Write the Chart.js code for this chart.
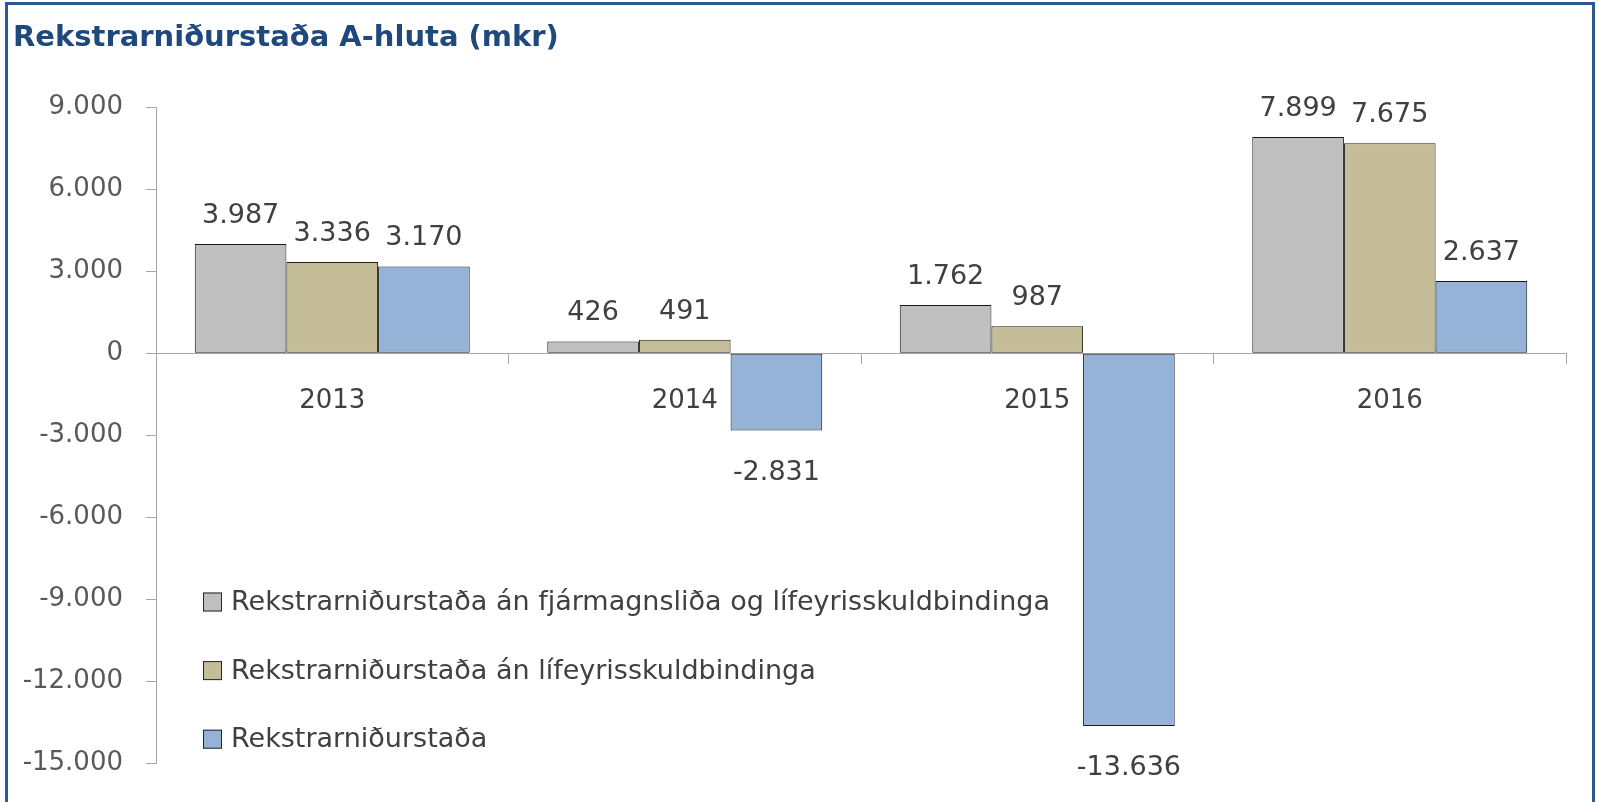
<!DOCTYPE html>
<html>
<head>
<meta charset="utf-8">
<script src="https://cdn.jsdelivr.net/npm/chart.js@4.4.1/dist/chart.umd.min.js"></script>
<style>
  html, body { margin: 0; padding: 0; background: #fff; overflow: hidden; }
  #frame {
    position: absolute; left: 5px; top: 2px;
    width: 1584px; height: 820px;
    border: 3px solid #2B5797;
  }
  #wrap { position: relative; width: 1584px; height: 797px; }
</style>
</head>
<body>
<div id="frame"><div id="wrap"><canvas id="chart"></canvas></div></div>
<script>
// chart data
const years = ['2013', '2014', '2015', '2016'];
const seriesNames = [
  'Rekstrarniðurstaða án fjármagnsliða og lífeyrisskuldbindinga',
  'Rekstrarniðurstaða án lífeyrisskuldbindinga',
  'Rekstrarniðurstaða'
];
const anFjarmagnslida = [3987, 426, 1762, 7899];
const anLifeyris = [3336, 491, 987, 7675];
const rekstrarnidurstada = [3170, -2831, -13636, 2637];
const seriesColors = ['#BFBFBF', '#C4BD97', '#95B3D7'];
const yTicks = [9000, 6000, 3000, 0, -3000, -6000, -9000, -12000, -15000];

const FONT = "'DejaVu Sans', 'Open Sans', sans-serif";
const FSIZE = 26;

// 1234 -> 1.234
const fmt = (v) => {
  const s = String(Math.abs(v)).replace(/\B(?=(\d{3})+(?!\d))/g, '.');
  return v < 0 ? '-' + s : s;
};

// value labels above / below each bar
const barLabels = {
  id: 'barLabels',
  afterDatasetsDraw(chart) {
    const ctx = chart.ctx;
    ctx.save();
    ctx.font = '27px ' + FONT;
    ctx.fillStyle = '#404040';
    ctx.textAlign = 'center';
    ctx.textBaseline = 'alphabetic';
    chart.data.datasets.forEach((ds, i) => {
      chart.getDatasetMeta(i).data.forEach((bar, j) => {
        const v = ds.data[j];
        const y = v >= 0 ? bar.y - 21 : bar.y + 49;
        ctx.fillText(fmt(v), bar.x, y);
      });
    });
    ctx.restore();
  }
};

// legend inside the plot, lower left
const boxLegend = {
  id: 'boxLegend',
  afterDraw(chart) {
    const ctx = chart.ctx;
    ctx.save();
    ctx.font = '27px ' + FONT;
    ctx.textBaseline = 'middle';
    ctx.textAlign = 'left';
    chart.data.datasets.forEach((ds, i) => {
      const cy = 597 + i * 68.6;
      ctx.fillStyle = ds.backgroundColor;
      ctx.fillRect(195, cy - 9.5, 19, 19);
      ctx.strokeStyle = '#262626';
      ctx.lineWidth = 1;
      ctx.strokeRect(195.5, cy - 9, 18, 18);
      ctx.fillStyle = '#404040';
      ctx.fillText(ds.label, 223, cy + 1);
    });
    ctx.restore();
  }
};

const data = [anFjarmagnslida, anLifeyris, rekstrarnidurstada];

new Chart(document.getElementById('chart'), {
  type: 'bar',
  data: {
    labels: years,
    datasets: seriesNames.map((name, i) => ({
      label: name,
      data: data[i],
      backgroundColor: seriesColors[i],
      borderColor: '#1A1A1A',
      borderWidth: 1,
      borderSkipped: false,
      categoryPercentage: 0.78,
      barPercentage: 1.0
    }))
  },
  options: {
    responsive: true,
    maintainAspectRatio: false,
    animation: false,
    layout: { padding: { top: 0, left: 5, right: 26, bottom: 32 } },
    plugins: {
      legend: { display: false },
      tooltip: { enabled: false },
      title: {
        display: true,
        text: 'Rekstrarniðurstaða A-hluta (mkr)',
        align: 'start',
        color: '#1F497D',
        font: { family: FONT, size: 29, weight: 'bold', lineHeight: 1.2 },
        padding: { top: 16, bottom: 51.2 }
      }
    },
    scales: {
      x: {
        position: { y: 0 },
        afterFit: (s) => { s.height = 0; },
        grid: { drawOnChartArea: false, offset: true, tickLength: 10, color: '#A6A6A6' },
        border: { color: '#A6A6A6' },
        ticks: { color: '#404040', font: { family: FONT, size: FSIZE }, padding: 22, maxRotation: 0 }
      },
      y: {
        min: -15000,
        max: 9000,
        afterFit: (s) => { s.width = 143; },
        afterBuildTicks: (s) => { s.ticks = yTicks.map(v => ({ value: v })); },
        grid: { drawOnChartArea: false, tickLength: 10, color: '#A6A6A6' },
        border: { color: '#A6A6A6' },
        ticks: {
          color: '#595959',
          font: { family: FONT, size: FSIZE },
          padding: 23,
          callback: (v) => fmt(v)
        }
      }
    }
  },
  plugins: [barLabels, boxLegend]
});
</script>
</body>
</html>
